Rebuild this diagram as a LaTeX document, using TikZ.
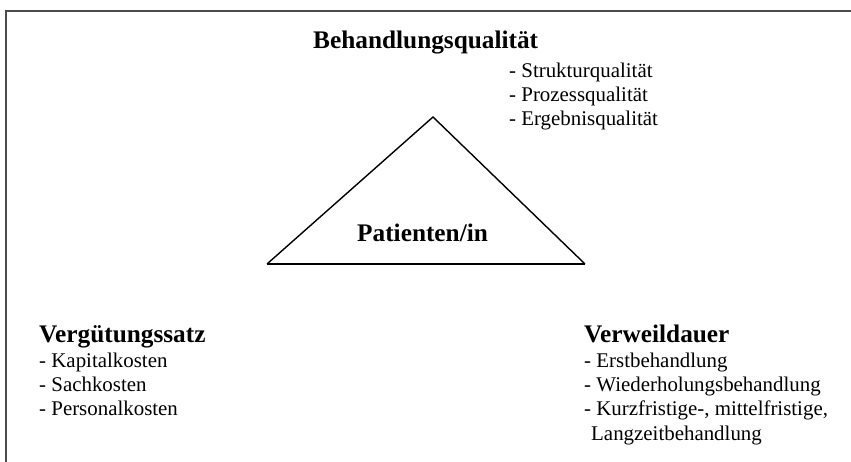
\documentclass[tikz,border=0pt]{standalone}
\usepackage{fontspec}
\setmainfont{Liberation Serif}

\tikzset{
  head/.style={font=\fontsize{25.3}{28}\selectfont\bfseries, anchor=base west, inner sep=0pt},
  item/.style={font=\fontsize{20.9}{24.5}\selectfont, anchor=base west, inner sep=0pt},
}

\begin{document}
\begin{tikzpicture}[x=1pt,y=-1pt]
    \useasboundingbox (0,0) rectangle (851,462);

    % Frame
    \draw[gray!60!black, line width=1.5pt] (6,462) -- (6,11) -- (851,11);

    % Triangle
    \coordinate (apex) at (433,117);
    \coordinate (bleft) at (267,264);
    \coordinate (bright) at (585,264);
    \draw[line width=1.4pt, line join=miter] (bleft) -- (apex) -- (bright);
    \draw[line width=2.2pt] (bleft) -- (bright);

    \node[head] (pat) at (357,242) {Patienten/in};

    % Behandlungsqualitaet
    \node[head] (bq) at (313,49) {Behandlungsqualität};
    \node[item] (bq1) at (509,78) {- Strukturqualität};
    \node[item] (bq2) at (509,102) {- Prozessqualität};
    \node[item] (bq3) at (509,126) {- Ergebnisqualität};

    % Verguetungssatz
    \node[head] (vs) at (39,342) {Vergütungssatz};
    \node[item] (vs1) at (39,367) {- Kapitalkosten};
    \node[item] (vs2) at (39,391) {- Sachkosten};
    \node[item] (vs3) at (39,415) {- Personalkosten};

    % Verweildauer
    \node[head] (vd) at (584,342) {Verweildauer};
    \node[item] (vd1) at (584,367) {- Erstbehandlung};
    \node[item] (vd2) at (584,391) {- Wiederholungsbehandlung};
    \node[item] (vd3) at (584,415) {- Kurzfristige-, mittelfristige,};
    \node[item] (vd4) at (591,440) {Langzeitbehandlung};
\end{tikzpicture}
\end{document}
